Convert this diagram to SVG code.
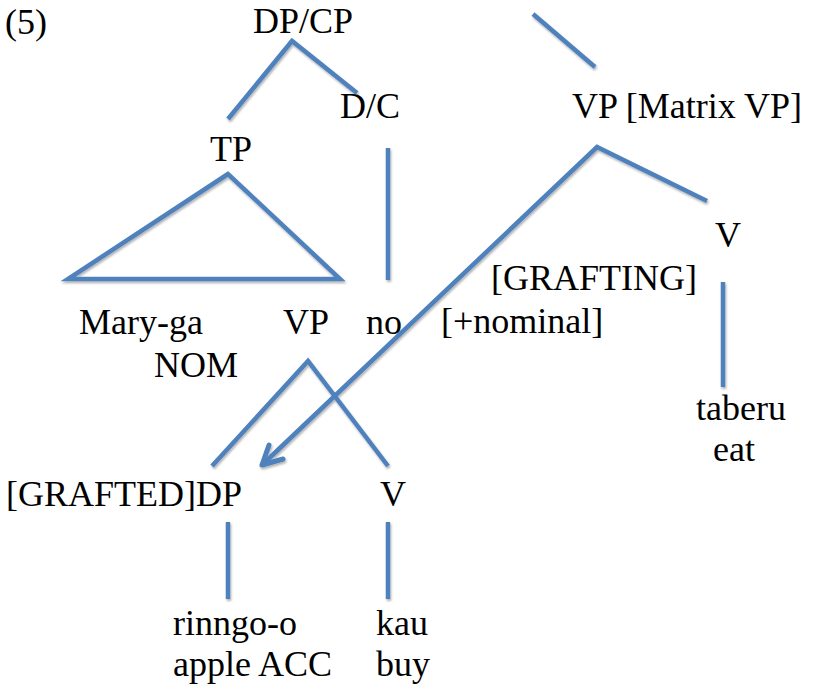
<svg xmlns="http://www.w3.org/2000/svg" width="815" height="688" viewBox="0 0 815 688">
  <defs>
    <style>
      text { font-family: 'Liberation Serif', 'Times New Roman', serif; font-size: 36px; fill: #000; }
      .edge { stroke: #4F81BD; stroke-width: 4.5; fill: none; stroke-linecap: butt; stroke-linejoin: miter; }
      .head { stroke: #4F81BD; stroke-width: 5; fill: none; stroke-linecap: round; stroke-linejoin: round; }
    </style>
    <filter id="shadow" x="-10%" y="-10%" width="120%" height="120%">
      <feDropShadow dx="1" dy="2" stdDeviation="1.2" flood-color="#000" flood-opacity="0.3"/>
    </filter>
  </defs>
  <rect width="815" height="688" fill="#fff"/>

  <!-- tree branches and the grafting arrow -->
  <g id="connectors" filter="url(#shadow)">
    <polyline class="edge" points="228,119 292,41 357,93"/>
    <line class="edge" x1="388" y1="148" x2="388" y2="280"/>
    <polygon class="edge" points="228,174 68,279 340,279"/>
    <line class="edge" x1="533" y1="14" x2="595" y2="67"/>
    <polyline class="edge" points="262,465 597,147 707,201"/>
    <polyline class="head" points="269,445 262,465 283,459"/>
    <line class="edge" x1="723" y1="282" x2="723" y2="387"/>
    <polyline class="edge" points="212,466 308,361 388,466"/>
    <line class="edge" x1="228" y1="522" x2="228" y2="599"/>
    <line class="edge" x1="388" y1="522" x2="388" y2="599"/>
  </g>

  <g id="ex-number"><text x="5" y="34">(5)</text></g>
  <g id="dpcp"><text x="253" y="33">DP/CP</text></g>
  <g id="dc"><text x="340" y="118">D/C</text></g>
  <g id="tp"><text x="210" y="161">TP</text></g>
  <g id="matrix-vp"><text x="572" y="118">VP [Matrix VP]</text></g>
  <g id="mary"><text x="79" y="334">Mary-ga</text><text x="154" y="377">NOM</text></g>
  <g id="vp"><text x="283" y="334">VP</text></g>
  <g id="no"><text x="366" y="334">no</text></g>
  <g id="grafting"><text x="491" y="290">[GRAFTING]</text><text x="441" y="333">[+nominal]</text></g>
  <g id="v-matrix"><text x="715" y="247">V</text></g>
  <g id="taberu"><text x="696" y="420">taberu</text><text x="713" y="461">eat</text></g>
  <g id="grafted-dp"><text x="6" y="506">[GRAFTED]DP</text></g>
  <g id="v-low"><text x="380" y="506">V</text></g>
  <g id="rinngo"><text x="173" y="635">rinngo-o</text><text x="173" y="676">apple ACC</text></g>
  <g id="kau"><text x="376" y="635">kau</text><text x="376" y="676">buy</text></g>
</svg>
